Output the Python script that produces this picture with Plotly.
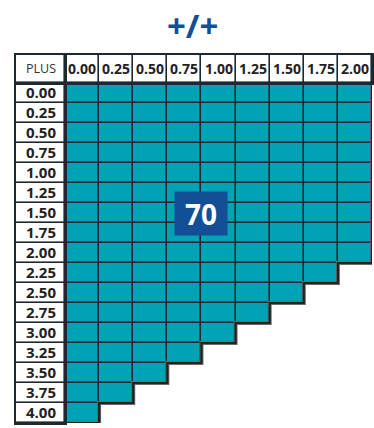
import plotly.graph_objects as go

# column headers (second value) and row headers (first value)
col_labels = ["0.00", "0.25", "0.50", "0.75", "1.00", "1.25", "1.50", "1.75", "2.00"]
row_labels = ["0.00", "0.25", "0.50", "0.75", "1.00", "1.25", "1.50", "1.75", "2.00",
              "2.25", "2.50", "2.75", "3.00", "3.25", "3.50", "3.75", "4.00"]
# how many cells are filled in each row (left to right)
filled_per_row = [9, 9, 9, 9, 9, 9, 9, 9, 9, 8, 7, 6, 5, 4, 3, 2, 1]
corner_label = "PLUS"
title_text = "+/+"
center_value = "70"
center_row = "1.50"

TEAL = "#00a2b6"
LINE = "#1c2a2f"
BLUE = "#124f97"
GAP = 1.6

mask = [[1 if c < n else None for c in range(len(col_labels))] for n in filled_per_row]

# outline of the filled area (right / stepped edge), in cell units
edge_x, edge_y = [], []
for i, n in enumerate(filled_per_row):
    edge_x += [n - 0.5, n - 0.5]
    edge_y += [i - 0.5, i + 0.5]
edge_x.append(-0.5)
edge_y.append(len(filled_per_row) - 0.5)


def solid(color):
    return [[0, color], [1, color]]


fig = go.Figure()

# main grid: dark underlay then teal cells with gaps
fig.add_trace(go.Heatmap(x=col_labels, y=row_labels, z=mask, colorscale=solid(LINE),
                         showscale=False, hoverinfo="skip", xaxis="x", yaxis="y"))
fig.add_trace(go.Heatmap(x=col_labels, y=row_labels, z=mask, colorscale=solid(TEAL),
                         showscale=False, xgap=GAP, ygap=GAP, hoverinfo="skip",
                         xaxis="x", yaxis="y"))

# header row
hdr_z = [[1] * len(col_labels)]
fig.add_trace(go.Heatmap(x=col_labels, y=[corner_label], z=hdr_z, colorscale=solid(LINE),
                         showscale=False, hoverinfo="skip", xaxis="x2", yaxis="y2"))
fig.add_trace(go.Heatmap(x=col_labels, y=[corner_label], z=hdr_z, colorscale=solid("white"),
                         showscale=False, xgap=GAP, ygap=GAP, hoverinfo="skip",
                         text=[col_labels], texttemplate="%{text}",
                         textfont=dict(family="Open Sans", size=14, color="#222", weight="bold"),
                         xaxis="x2", yaxis="y2"))

# row labels
lbl_z = [[1] for _ in row_labels]
fig.add_trace(go.Heatmap(x=[corner_label], y=row_labels, z=lbl_z, colorscale=solid(LINE),
                         showscale=False, hoverinfo="skip", xaxis="x3", yaxis="y3"))
fig.add_trace(go.Heatmap(x=[corner_label], y=row_labels, z=lbl_z, colorscale=solid("white"),
                         showscale=False, xgap=GAP, ygap=GAP, hoverinfo="skip",
                         text=[[r] for r in row_labels], texttemplate="%{text}",
                         textfont=dict(family="Open Sans", size=15, color="#222", weight="bold"),
                         xaxis="x3", yaxis="y3"))

# corner cell
fig.add_trace(go.Heatmap(x=[corner_label], y=[corner_label], z=[[1]], colorscale=solid(LINE),
                         showscale=False, hoverinfo="skip", xaxis="x4", yaxis="y4"))
fig.add_trace(go.Heatmap(x=[corner_label], y=[corner_label], z=[[1]], colorscale=solid("white"),
                         showscale=False, xgap=GAP, ygap=GAP, hoverinfo="skip",
                         text=[[corner_label]], texttemplate="%{text}",
                         textfont=dict(family="Open Sans", size=12.5, color="#333"),
                         xaxis="x4", yaxis="y4"))

# stepped outline with a soft shadow
fig.add_trace(go.Scatter(x=edge_x, y=edge_y, mode="lines", line=dict(color="#6b6b6b", width=4),
                         hoverinfo="skip", cliponaxis=False, xaxis="x5", yaxis="y5"))
fig.add_trace(go.Scatter(x=edge_x, y=edge_y, mode="lines", line=dict(color="#222", width=2.2),
                         hoverinfo="skip", cliponaxis=False, xaxis="x5", yaxis="y5"))

W, H = 374, 428
x_left, x_mid, x_right = 16 / W, 65 / W, 372 / W
y_top, y_mid, y_bot = 1 - 55 / H, 1 - 83 / H, 1 - 423 / H

hidden = dict(showgrid=False, zeroline=False, showticklabels=False, ticks="", fixedrange=True)
boxed = dict(showline=True, mirror=True, linecolor=LINE, linewidth=2, **hidden)

fig.update_layout(
    width=W,
    height=H,
    margin=dict(l=0, r=0, t=0, b=0),
    paper_bgcolor="white",
    plot_bgcolor="white",
    showlegend=False,
    xaxis=dict(domain=[x_mid, x_right], anchor="y", categoryorder="array",
               categoryarray=col_labels, **hidden),
    yaxis=dict(domain=[y_bot, y_mid], anchor="x", autorange="reversed", categoryorder="array",
               categoryarray=row_labels, **hidden),
    xaxis2=dict(domain=[x_mid, x_right], anchor="y2", categoryorder="array",
                categoryarray=col_labels, **boxed),
    yaxis2=dict(domain=[y_mid, y_top], anchor="x2", **boxed),
    xaxis3=dict(domain=[x_left, x_mid], anchor="y3", **boxed),
    yaxis3=dict(domain=[y_bot, y_mid], anchor="x3", autorange="reversed", categoryorder="array",
                categoryarray=row_labels, **boxed),
    xaxis4=dict(domain=[x_left, x_mid], anchor="y4", **boxed),
    yaxis4=dict(domain=[y_mid, y_top], anchor="x4", **boxed),
    xaxis5=dict(overlaying="x", anchor="y5", range=[-0.5, len(col_labels) - 0.5], **hidden),
    yaxis5=dict(overlaying="y", anchor="x5", range=[len(row_labels) - 0.5, -0.5], **hidden),
    annotations=[
        dict(text=f"<b>{title_text}</b>", xref="paper", yref="paper",
             x=193 / W, y=1 - 25 / H, yanchor="middle",
             showarrow=False, font=dict(family="Open Sans", size=33, color=BLUE)),
        dict(text=f"<b>{center_value}</b>", xref="x", yref="y",
             x=(len(col_labels) - 1) / 2 - 0.5, y=row_labels.index(center_row),
             showarrow=False, bgcolor=BLUE, width=50, height=41, yanchor="middle",
             font=dict(family="Open Sans", size=28, color="white")),
    ],
)

# drop the default page margin so the figure fills the window
fig.write_html("out.html", config={"displayModeBar": False},
               post_script="document.body.style.margin='0';document.body.style.overflow='hidden';")
